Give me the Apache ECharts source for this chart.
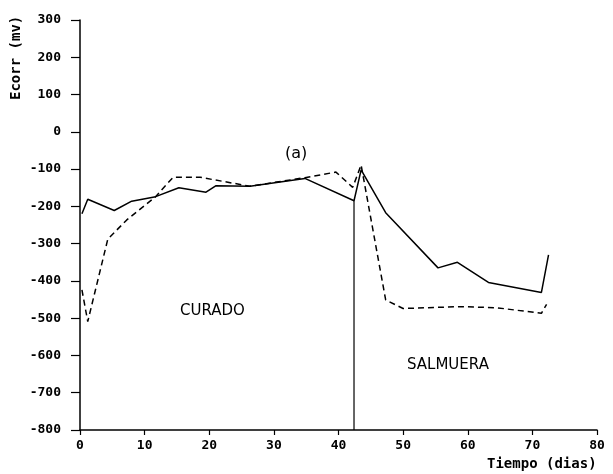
<!DOCTYPE html>
<html><head><meta charset="utf-8">
<script src="https://cdn.jsdelivr.net/npm/echarts@6/dist/echarts.min.js"></script>
<style>html,body{margin:0;padding:0;background:#fff}#c{width:613px;height:474px}</style>
</head><body><div id="c"></div>
<script>
var xTicks = [0,10,20,30,40,50,60,70,80];
var yTicks = [-800,-700,-600,-500,-400,-300,-200,-100,0,100,200,300];
var solidDays = [0.3,1.2,5.3,8,11.7,15.3,19.5,21,26.3,34.8,42.4,43.5,47.3,55.4,58.4,63.2,71.4,72.5];
var solidEcorr = [-220,-181,-211,-186,-174,-150,-162,-145,-146,-125,-185,-102,-217,-365,-350,-404,-431,-330];
var dashedDays = [0.3,1.2,4.3,7.2,11.7,14.4,18.6,26.3,34.8,39.6,42.2,43.5,47.3,50,58.8,64.5,71.4,72.2];
var dashedEcorr = [-424,-509,-288,-237,-174,-122,-122,-146,-123,-108,-149,-89,-451,-474,-469,-472,-487,-463];
var separatorDays = [42.4,42.4];
var separatorEcorr = [-185,-800];

function pairs(xs, ys){ return xs.map(function(x,i){return [x, ys[i]];}); }

var chart = echarts.init(document.getElementById('c'), null, {renderer:'canvas'});
var mono = '"DejaVu Sans Mono", monospace';
chart.setOption({
  animation:false,
  backgroundColor:'#fff',
  grid:{left:80,right:16,top:20,bottom:44},
  xAxis:{type:'value',min:xTicks[0],max:xTicks[xTicks.length-1],interval:10,
    axisLine:{onZero:false,lineStyle:{color:'#000',width:1.5}},
    axisTick:{length:5,lineStyle:{color:'#000',width:1.2}},
    axisLabel:{color:'#000',fontFamily:mono,fontSize:13,fontWeight:'bold',margin:9},
    splitLine:{show:false}},
  yAxis:{type:'value',min:yTicks[0],max:yTicks[yTicks.length-1],interval:100,
    axisLine:{show:true,onZero:false,lineStyle:{color:'#000',width:1.5}},
    axisTick:{show:true,length:9,lineStyle:{color:'#000',width:1.2}},
    axisLabel:{color:'#000',fontFamily:mono,fontSize:13,fontWeight:'bold',margin:19},
    splitLine:{show:false}},
  graphic:[
    {type:'text',x:9,y:100,rotation:Math.PI/2,style:{text:'Ecorr (mv)',font:'bold 14px "DejaVu Sans Mono"',fill:'#000'}},
    {type:'text',x:487,y:457,style:{text:'Tiempo (dias)',font:'bold 14px "DejaVu Sans Mono"',fill:'#000'}},
    {type:'text',x:285,y:146,style:{text:'(a)',font:'16px "DejaVu Sans"',fill:'#000'}},
    {type:'text',x:180,y:304,style:{text:'CURADO',font:'15px "DejaVu Sans"',fill:'#000'}},
    {type:'text',x:407,y:358,style:{text:'SALMUERA',font:'15px "DejaVu Sans"',fill:'#000'}}
  ],
  series:[
    {type:'line',data:pairs(solidDays,solidEcorr),symbol:'none',lineStyle:{color:'#000',width:1.5}},
    {type:'line',data:pairs(dashedDays,dashedEcorr),symbol:'none',lineStyle:{color:'#000',width:1.5,type:[6,4]}},
    {type:'line',data:pairs(separatorDays,separatorEcorr),symbol:'none',lineStyle:{color:'#000',width:1.2}}
  ]
});
</script></body></html>
